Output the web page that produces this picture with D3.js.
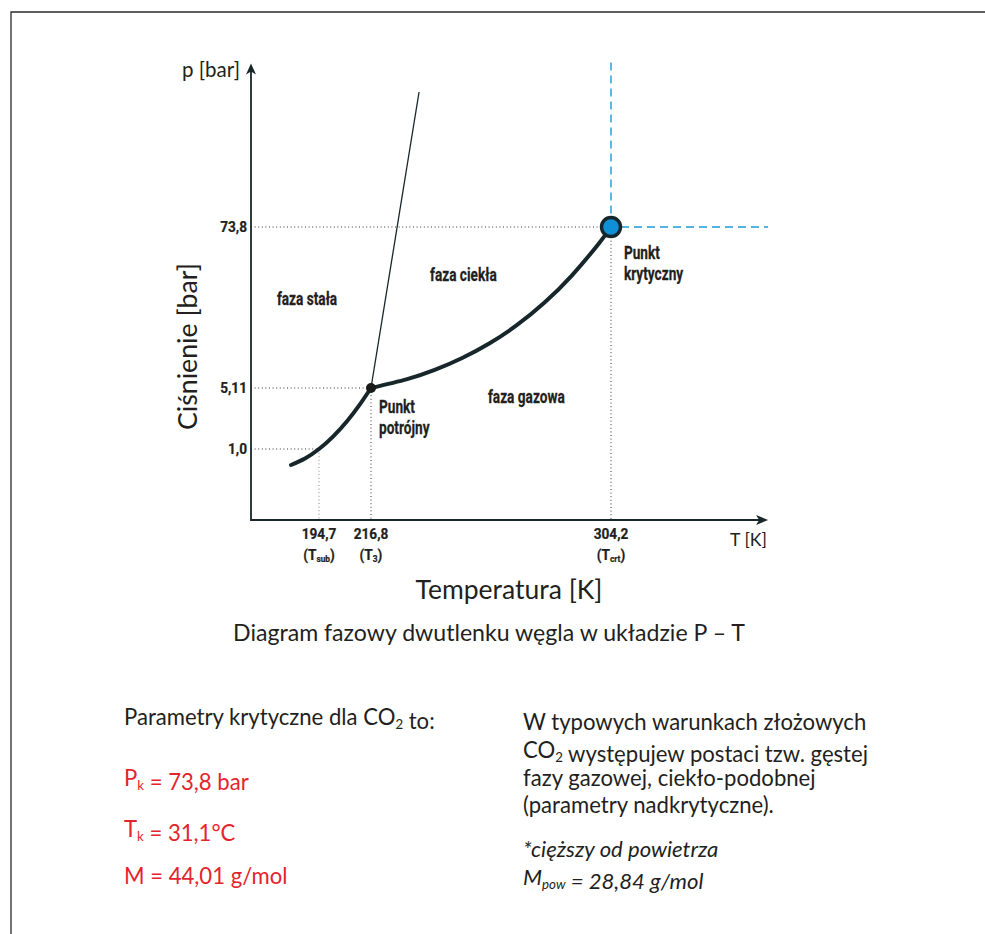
<!DOCTYPE html>
<html><head><meta charset="utf-8">
<script src="https://cdn.jsdelivr.net/npm/d3@7"></script>
<style>body{margin:0;background:#fff}</style>
</head><body>
<svg id="c" width="985" height="934"></svg>
<script>
// ---- data ----
const tempTicks = [194.7, 216.8, 304.2];
const tempTickLabels = ["194,7", "216,8", "304,2"];
const tempTickSubs = [["T", "sub"], ["T", "3"], ["T", "crt"]];
const pressureTicks = [1.0, 5.11, 73.8];
const pressureTickLabels = ["1,0", "5,11", "73,8"];
const tempAxisDomain = [165.8, 361.4];
const pressureAxisDomain = [0, 144];
// sublimation curve (T [K], p [bar])
const sublimationCurve = [[182.8, 0.775], [188.75, 0.866], [194.7, 1.0], [200.65, 1.836],
                          [206.6, 2.873], [211.7, 3.918], [216.8, 5.11]];
// vaporization curve
const vaporizationCurve = [[216.8, 5.11], [230, 8.9], [240, 12.8], [250, 17.9], [260, 24.2], [270, 32.0],
                           [280, 41.6], [290, 53.2], [300, 67.1], [304.2, 73.8]];
// melting line
const meltingCurve = [[216.8, 5.11], [234.3, 131.4]];
const triplePoint = [216.8, 5.11];
const criticalPoint = [304.2, 73.8];
const phaseLabels = [
  {t: 176.8, p: 40.5, lines: ["faza stała"]},
  {t: 238.3, p: 50.8, lines: ["faza ciekła"]},
  {t: 259.4, p: 4.1,  lines: ["faza gazowa"]},
  {t: 219.7, p: 3.43, lines: ["Punkt", "potrójny"]},
  {t: 308.9, p: 60.1, lines: ["Punkt", "krytyczny"]}
];

const SANS = "Lato, 'Open Sans', 'Noto Sans', sans-serif";
const COND = "Roboto, 'Open Sans', sans-serif";
const DARK = "#17262b";
const TXT = "#231f20";

const svg = d3.select("#c");

function fit(sel, w) {
  const len = sel.node().getComputedTextLength();
  const fs = +sel.attr("font-size");
  sel.attr("font-size", (fs * w / len).toFixed(2));
  return fs * w / len;
}
function condText(xp, yp, anchor, size, sx) {
  return svg.append("text").attr("transform", `translate(${xp},${yp}) scale(${sx},1)`)
    .attr("text-anchor", anchor).attr("font-family", COND).attr("font-weight", "bold")
    .attr("font-size", size).attr("fill", TXT)
    .attr("stroke", TXT).attr("stroke-width", 0.25);
}

// frame
svg.append("path").attr("d", "M11,934 V12 H985").attr("fill", "none")
  .attr("stroke", "#2b2b2b").attr("stroke-width", 1.3);

// scales (piecewise linear, schematic diagram)
const x = d3.scaleLinear().domain(tempTicks).range([319, 371, 611]);
const y = d3.scaleLinear().domain([0].concat(pressureTicks)).range([520, 449, 388, 227]);

const x0 = x(tempAxisDomain[0]), x1 = x(tempAxisDomain[1]);
const y0 = y(pressureAxisDomain[0]), y1 = y(pressureAxisDomain[1]);

// guide lines (dotted)
const g = svg.append("g");
pressureTicks.forEach((p, i) => {
  const tEnd = i === 2 ? criticalPoint[0] : (i === 1 ? triplePoint[0] : tempTicks[0]);
  g.append("line").attr("x1", x0).attr("x2", i === 2 ? x(tEnd) - 10 : x(tEnd))
    .attr("y1", y(p)).attr("y2", y(p))
    .attr("stroke", "#333").attr("stroke-width", 1).attr("stroke-dasharray", "1,2.6");
});
tempTicks.forEach((t, i) => {
  const pTop = i === 2 ? criticalPoint[1] : pressureTicks[i];
  g.append("line").attr("x1", x(t)).attr("x2", x(t))
    .attr("y1", i === 2 ? y(pTop) + 10 : y(pTop)).attr("y2", y0)
    .attr("stroke", i === 0 ? "#888" : "#333").attr("stroke-width", 1).attr("stroke-dasharray", "1,2.6");
});

// blue dashed lines through critical point
const cx = x(criticalPoint[0]), cy = y(criticalPoint[1]);
svg.append("line").attr("x1", cx).attr("x2", cx).attr("y1", y1).attr("y2", cy - 10)
  .attr("stroke", "#1b9ad8").attr("stroke-width", 1.4).attr("stroke-dasharray", "8,5");
svg.append("line").attr("x1", cx + 10).attr("x2", x1).attr("y1", cy).attr("y2", cy)
  .attr("stroke", "#1b9ad8").attr("stroke-width", 1.4).attr("stroke-dasharray", "8,5");

// axes
const ax = svg.append("g");
ax.append("line").attr("x1", x0).attr("x2", x0).attr("y1", y0 + 0.9).attr("y2", y1 + 8)
  .attr("stroke", DARK).attr("stroke-width", 1.8);
ax.append("line").attr("x1", x0).attr("x2", x1 - 8).attr("y1", y0).attr("y2", y0)
  .attr("stroke", DARK).attr("stroke-width", 1.8);
ax.append("path").attr("d", `M${x0},${y1 + 1} L${x0 - 5},${y1 + 12} L${x0},${y1 + 9} L${x0 + 5},${y1 + 12} Z`).attr("fill", DARK);
ax.append("path").attr("d", `M${x1},${y0} L${x1 - 12},${y0 - 5} L${x1 - 9},${y0} L${x1 - 12},${y0 + 5} Z`).attr("fill", DARK);

// tick labels
pressureTicks.forEach((p, i) => {
  condText(x0 - 4, y(p) + 5, "end", 15.5, 0.88).text(pressureTickLabels[i]);
});
tempTicks.forEach((t, i) => {
  condText(x(t), 539, "middle", 15.5, 0.88).text(tempTickLabels[i]);
  const s = condText(x(t), 560, "middle", 15.5, 0.88);
  s.append("tspan").text("(" + tempTickSubs[i][0]);
  s.append("tspan").attr("font-size", 9.5).attr("dy", 2).text(tempTickSubs[i][1]);
  s.append("tspan").attr("dy", -2).text(")");
});

// curves
const lineGen = d3.line().x(d => x(d[0])).y(d => y(d[1]));
svg.append("path").attr("d", lineGen.curve(d3.curveNatural)(sublimationCurve))
  .attr("fill", "none").attr("stroke", DARK).attr("stroke-width", 4).attr("stroke-linecap", "round");
svg.append("path").attr("d", lineGen.curve(d3.curveNatural)(vaporizationCurve))
  .attr("fill", "none").attr("stroke", DARK).attr("stroke-width", 4).attr("stroke-linecap", "round");
svg.append("path").attr("d", lineGen.curve(d3.curveLinear)(meltingCurve))
  .attr("fill", "none").attr("stroke", DARK).attr("stroke-width", 1.3);

// points
svg.append("circle").attr("cx", x(triplePoint[0])).attr("cy", y(triplePoint[1])).attr("r", 5).attr("fill", "#1a1a1a");
svg.append("circle").attr("cx", cx).attr("cy", cy).attr("r", 9.5)
  .attr("fill", "#0f8fd6").attr("stroke", DARK).attr("stroke-width", 3.4);

// phase labels
phaseLabels.forEach(l => {
  const t = condText(x(l.t), y(l.p), "start", 17.5, 0.78);
  l.lines.forEach((s, k) => t.append("tspan").attr("x", 0).attr("dy", k === 0 ? 0 : 21).text(s));
});

// axis names
fit(svg.append("text").attr("x", 240).attr("y", 77).attr("text-anchor", "end")
  .attr("font-family", SANS).attr("font-size", 18).attr("fill", TXT).text("p [bar]"), 58);
fit(svg.append("text").attr("x", 767).attr("y", 546).attr("text-anchor", "end")
  .attr("font-family", SANS).attr("font-size", 18).attr("fill", TXT).text("T [K]"), 37);
fit(svg.append("text").attr("transform", "translate(197,346.5) rotate(-90)").attr("text-anchor", "middle")
  .attr("font-family", SANS).attr("font-size", 25).attr("fill", TXT).text("Ciśnienie [bar]"), 167);
fit(svg.append("text").attr("x", 509).attr("y", 599).attr("text-anchor", "middle")
  .attr("font-family", SANS).attr("font-size", 25).attr("fill", TXT).text("Temperatura [K]"), 187);
fit(svg.append("text").attr("x", 489).attr("y", 641).attr("text-anchor", "middle")
  .attr("font-family", SANS).attr("font-size", 18).attr("fill", TXT)
  .text("Diagram fazowy dwutlenku węgla w układzie P – T"), 512);

// bottom notes
function rich(xp, yp, parts, opts) {
  const t = svg.append("text").attr("x", xp).attr("y", yp)
    .attr("font-family", SANS).attr("font-size", opts.size).attr("fill", opts.color)
    .attr("font-style", opts.italic ? "italic" : "normal");
  parts.forEach(p => {
    if (typeof p === "string") t.append("tspan").text(p);
    else { t.append("tspan").attr("font-size", (opts.size * 0.6).toFixed(2)).attr("dy", 4).text(p.sub);
           t.append("tspan").attr("dy", -4).text(""); }
  });
  return t;
}
const probe = svg.append("text").attr("font-family", SANS).attr("font-size", 21).text("Parametry krytyczne dla CO to:");
const bodySize = fit(probe, 303);
probe.remove();
const RED = "#e4242c";
const B = {size: bodySize, color: TXT};
const R = {size: bodySize, color: RED};
const I = {size: bodySize, color: TXT, italic: true};
rich(124, 725, ["Parametry krytyczne dla CO", {sub: "2"}, " to:"], B);
rich(124, 786, ["P", {sub: "k"}, " = 73,8 bar"], R);
rich(124, 837, ["T", {sub: "k"}, " = 31,1°C"], R);
rich(124, 884, ["M = 44,01 g/mol"], R);

rich(523, 730, ["W typowych warunkach złożowych"], B);
rich(523, 758, ["CO", {sub: "2"}, " występujew postaci tzw. gęstej"], B);
rich(523, 786, ["fazy gazowej, ciekło-podobnej"], B);
rich(523, 813, ["(parametry nadkrytyczne)."], B);
rich(523, 857, ["*cięższy od powietrza"], I);
rich(523, 885, ["M", {sub: "pow"}, " = 28,84 g/mol"], I);
</script>
</body></html>
